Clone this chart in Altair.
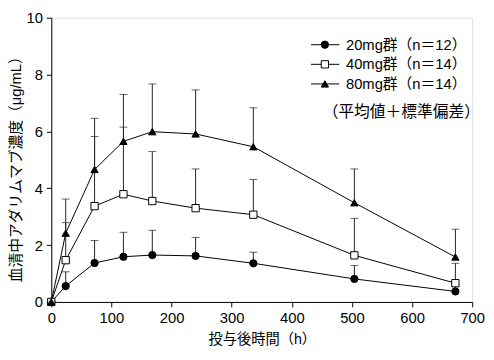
import altair as alt
import pandas as pd

times = [0, 24, 72, 120, 168, 240, 336, 504, 672]
groups = ["20mg群（n＝12）", "40mg群（n＝14）", "80mg群（n＝14）"]
mean20 = [0, 0.56, 1.37, 1.59, 1.65, 1.62, 1.36, 0.81, 0.37]
top20 = [0, 1.06, 2.16, 2.45, 2.52, 2.27, 1.75, 1.28, 0.55]
mean40 = [0, 1.47, 3.37, 3.79, 3.55, 3.30, 3.07, 1.64, 0.66]
top40 = [0, 2.79, 5.82, 6.15, 5.29, 4.68, 4.31, 2.94, 1.36]
mean80 = [0, 2.42, 4.66, 5.65, 5.99, 5.91, 5.46, 3.49, 1.58]
top80 = [0, 3.62, 6.46, 7.30, 7.67, 7.46, 6.83, 4.68, 2.56]
x_ticks = [0, 100, 200, 300, 400, 500, 600, 700]
y_ticks = [0, 2, 4, 6, 8, 10]
note = "（平均値＋標準偏差）"

rows = []
for g, ms, ts in zip(groups, [mean20, mean40, mean80], [top20, top40, top80]):
    for t, m, tp in zip(times, ms, ts):
        rows.append({"time": t, "group": g, "mean": m, "top": tp})
df = pd.DataFrame(rows)

FONT = "Liberation Sans, Noto Sans CJK JP"
shape_scale = alt.Scale(domain=groups, range=["circle", "square", "triangle-up"])
fill_scale = alt.Scale(domain=groups, range=["black", "white", "black"])

xs = alt.Scale(domain=[0, 700], nice=False)
ys = alt.Scale(domain=[0, 10], nice=False)

xenc = alt.X("time:Q", scale=xs, axis=alt.Axis(
    values=x_ticks, title="投与後時間（h）", grid=False, domainColor="black",
    tickColor="black", tickSize=5, labelFontSize=15, labelFont=FONT, labelColor="black",
    labelFlush=False, labelOverlap=False,
    titleFont=FONT, titleFontSize=14.5, titleFontWeight="normal", titleColor="black",
    titlePadding=7, labelPadding=4))
yenc = alt.Y("mean:Q", scale=ys, axis=alt.Axis(
    values=y_ticks, title="血清中アダリムマブ濃度（μg/mL）", grid=False, domainColor="black",
    tickColor="black", tickSize=5, labelFontSize=15, labelFont=FONT, labelColor="black",
    labelFlush=False, labelOverlap=False,
    titleFont=FONT, titleFontSize=15, titleFontWeight="normal", titleColor="black",
    titleX=-28, titleY=150, labelPadding=4))

base = alt.Chart(df)
err = base.mark_rule(color="#222", strokeWidth=1).encode(x=xenc, y=yenc, y2="top:Q")
caps = base.mark_tick(color="#222", thickness=1, size=8, orient="horizontal").encode(
    x="time:Q", y=alt.Y("top:Q", scale=ys))
lines = base.mark_line(color="black", strokeWidth=1).encode(
    x="time:Q", y="mean:Q", detail="group:N")
pts = base.mark_point(filled=False, stroke="black", strokeWidth=1, opacity=1, size=55).encode(
    x="time:Q", y="mean:Q",
    shape=alt.Shape("group:N", scale=shape_scale, legend=None),
    fill=alt.Fill("group:N", scale=fill_scale, legend=None))

# manual legend (annotation positions in data units)
leg_y = [9.05, 8.36, 7.67]
leg = pd.DataFrame({"group": groups, "y": leg_y, "x1": [432] * 3, "x2": [479] * 3,
                    "xm": [455] * 3, "xt": [490] * 3})
lbase = alt.Chart(leg)
lrule = lbase.mark_rule(color="black", strokeWidth=1).encode(
    x=alt.X("x1:Q", scale=xs), x2="x2:Q", y=alt.Y("y:Q", scale=ys))
lpts = lbase.mark_point(filled=False, stroke="black", strokeWidth=1, opacity=1, size=55).encode(
    x=alt.X("xm:Q", scale=xs), y=alt.Y("y:Q", scale=ys),
    shape=alt.Shape("group:N", scale=shape_scale, legend=None),
    fill=alt.Fill("group:N", scale=fill_scale, legend=None))
ltext = lbase.mark_text(align="left", baseline="middle", font=FONT, fontSize=15, color="black").encode(
    x=alt.X("xt:Q", scale=xs), y=alt.Y("y:Q", scale=ys), text="group:N")
ntext = alt.Chart(pd.DataFrame({"t": [note], "x": [582], "y": [6.68]})).mark_text(
    align="center", baseline="middle", font=FONT, fontSize=16, color="black").encode(
    x=alt.X("x:Q", scale=xs), y=alt.Y("y:Q", scale=ys), text="t:N")

chart = alt.layer(err, caps, lines, pts, lrule, lpts, ltext, ntext).properties(
    width=428, height=289,
    autosize=alt.AutoSizeParams(type="none"),
    padding={"left": 44, "top": 7, "right": 14, "bottom": 47},
).configure_view(stroke=None).configure(background="white")

chart.save("out.html", embed_options={"renderer": "svg", "actions": False})
